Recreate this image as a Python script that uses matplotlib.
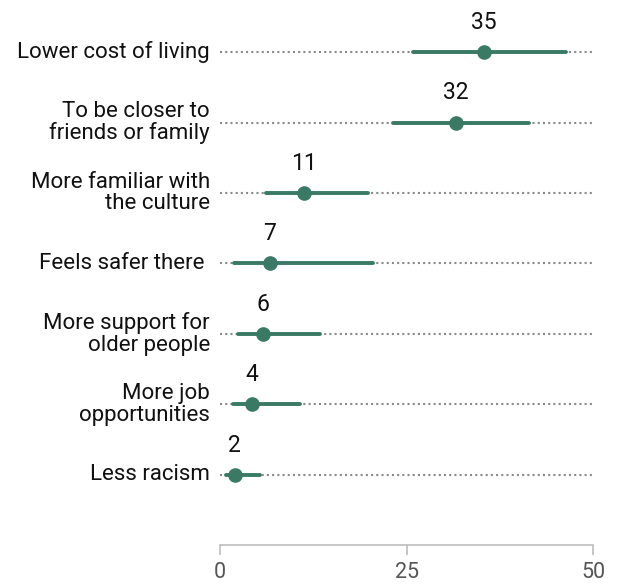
import numpy as np
import matplotlib.pyplot as plt

plt.rcParams['font.family'] = ['Roboto', 'DejaVu Sans']

reasons = ["Lower cost of living", "To be closer to\nfriends or family",
           "More familiar with\nthe culture", "Feels safer there ",
           "More support for\nolder people", "More job\nopportunities",
           "Less racism"]
estimate = [35.4, 31.6, 11.3, 6.7, 5.8, 4.3, 2.0]
low = [25.9, 23.2, 6.2, 1.9, 2.4, 1.7, 0.8]
high = [46.4, 41.4, 19.8, 20.5, 13.4, 10.7, 5.4]
labels = ["35", "32", "11", "7", "6", "4", "2"]

green = "#3a7a65"

fig = plt.figure(figsize=(6.21, 5.86), dpi=100)
ax = fig.add_axes([220/621, 41/586, 373/621, 545/586])
y = np.arange(len(reasons))

for i in y:
    ax.plot([0, 50], [i, i], color="#8a8a8a", lw=1.5, ls=(0, (1, 1.5)), zorder=1)
    ax.plot([low[i], high[i]], [i, i], color=green, lw=2.8, solid_capstyle="round", zorder=2)
    ax.plot(estimate[i], i, "o", color=green, ms=9.5, zorder=3)
    ax.text(estimate[i], i - 0.42, labels[i], ha="center", va="center", fontsize=16.5, color="#111111")
    ax.text(-1.35, i, reasons[i], ha="right", va="center", fontsize=16, color="#111111",
            linespacing=1.05)

ax.set_xlim(0, 50)
ax.set_ylim(7.0, -0.74)
for s in ["top", "right", "left"]:
    ax.spines[s].set_visible(False)
ax.spines["bottom"].set_color("#bdbdbd")
ax.spines["bottom"].set_linewidth(1.2)
ax.set_yticks([])
ax.set_xticks([0, 25, 50])
ax.tick_params(axis="x", length=7, width=1.2, color="#bdbdbd", labelcolor="#555555",
               labelsize=15.5, pad=5)

fig.savefig("out.png", dpi=100)
